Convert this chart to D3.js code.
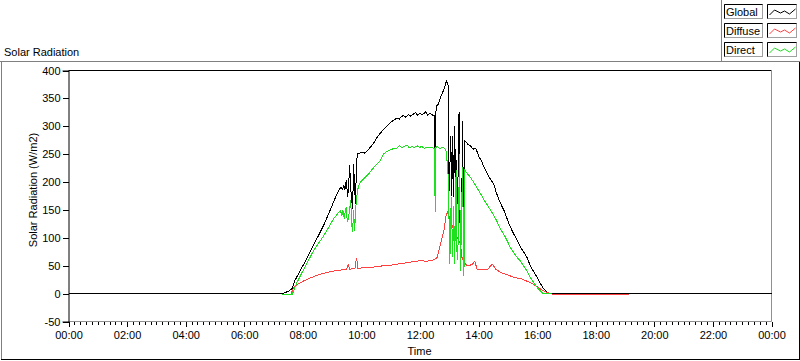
<!DOCTYPE html>
<html>
<head>
<meta charset="utf-8">
<script src="https://cdn.jsdelivr.net/npm/d3@7"></script>
<style>
  body { margin: 0; background: #fff; }
  svg text { font-family: "Liberation Sans", Arial, sans-serif; font-size: 11px; fill: #000; }
</style>
</head>
<body>
<svg id="graph"></svg>
<script>
// readings, [time, W/m2]
var globalRad = [["00:00",0],["07:18",0],["07:30",4],["07:38",9],["07:44",24],["08:02",53],["08:22",87],["08:43",123],["09:01",160],["09:10",179],["09:18",191],["09:21",187],["09:24",194],["09:26",186],["09:29",203],["09:32",173],["09:34",198],["09:36",230],["09:38",188],["09:39",179],["09:42",152],["09:44",233],["09:46",190],["09:48",161],["09:50",239],["09:53",251],["10:01",253],["10:06",252],["10:12",256],["10:18",262],["10:25",270],["10:32",280],["10:39",288],["10:46",295],["10:53",301],["11:00",307],["11:06",311],["11:12",314],["11:18",313],["11:22",318],["11:27",319],["11:31",316],["11:36",321],["11:41",318],["11:47",322],["11:51",325],["11:55",320],["12:00",324],["12:04",321],["12:08",323],["12:12",326],["12:16",320],["12:20",323],["12:24",321],["12:28",319],["12:30",320],["12:31",206],["12:32",320],["12:34",337],["12:38",340],["12:42",352],["12:46",360],["12:49",366],["12:52",374],["12:54",381],["12:56",378],["12:58",372],["12:59",173],["13:01",221],["13:03",283],["13:05",175],["13:07",283],["13:09",173],["13:11",301],["13:13",185],["13:15",240],["13:17",160],["13:20",325],["13:22",120],["13:25",89],["13:27",310],["13:30",86],["13:32",274],["13:38",268],["13:43",265],["13:49",259],["13:54",261],["14:01",245],["14:06",238],["14:11",227],["14:16",218],["14:21",209],["14:26",203],["14:31",197],["14:36",182],["14:41",170],["14:46",160],["14:52",149],["14:57",138],["15:02",125],["15:07",116],["15:12",107],["15:19",96],["15:26",83],["15:33",74],["15:39",65],["15:46",50],["15:53",39],["16:00",29],["16:06",19],["16:12",10],["16:18",4],["16:27",0],["24:00",0]]

var diffuseRad = [["07:36",0],["07:42",12],["07:50",17],["08:00",22],["08:15",28],["08:30",33],["08:45",37],["09:00",40],["09:15",42],["09:30",44],["09:33",52],["09:36",43],["09:40",45],["09:47",46],["09:50",64],["09:53",45],["10:00",46],["10:15",47],["10:30",48],["10:45",50],["11:00",51],["11:15",53],["11:30",55],["11:45",57],["12:00",59],["12:15",58],["12:25",60],["12:30",61],["12:35",65],["12:42",89],["12:49",113],["12:54",143],["12:56",146],["12:59",140],["13:03",130],["13:09",113],["13:16",101],["13:23",89],["13:26",65],["13:30",56],["13:37",50],["13:47",52],["13:52",58],["13:57",44],["14:07",43],["14:18",43],["14:28",53],["14:35",44],["14:45",38],["14:59",34],["15:12",29],["15:26",27],["15:40",22],["15:50",18],["16:07",8],["16:17",3],["16:34",-2],["19:08",-2]]

var directRad = [["07:18",-2],["07:38",-2],["07:48",20],["08:02",44],["08:22",77],["08:43",104],["09:03",134],["09:10",142],["09:17",149],["09:20",140],["09:22",150],["09:25",134],["09:27",148],["09:29",155],["09:31",128],["09:33",134],["09:35",145],["09:38",167],["09:40",125],["09:42",110],["09:44",150],["09:46",113],["09:49",160],["09:52",185],["09:55",195],["09:58",200],["10:05",206],["10:11",211],["10:18",218],["10:25",226],["10:32",232],["10:39",239],["10:46",251],["10:53",255],["11:00",258],["11:06",260],["11:13",261],["11:18",265],["11:23",262],["11:28",264],["11:34",266],["11:38",261],["11:43",264],["11:48",262],["11:54",265],["11:59",262],["12:04",264],["12:09",260],["12:14",263],["12:19",261],["12:24",262],["12:28",260],["12:30",261],["12:31",146],["12:32",262],["12:36",264],["12:40",260],["12:45",262],["12:50",261],["12:53",258],["12:56",233],["12:58",205],["13:01",53],["13:04",173],["13:07",65],["13:09",157],["13:11",53],["13:14",221],["13:16",60],["13:18",89],["13:21",251],["13:23",41],["13:27",227],["13:30",32],["13:32",221],["13:37",215],["13:43",209],["13:54",194],["14:04",179],["14:14",164],["14:25",149],["14:35",134],["14:45",116],["14:55",101],["15:05",83],["15:16",68],["15:26",58],["15:36",45],["15:46",29],["15:55",17],["16:03",8],["16:12",0],["16:28",0]]

var legendNames = ["Global","Diffuse","Direct"]
var seriesColors = ["#000000","#ff4040","#1ee01e"]
var yTicks = [-50,0,50,100,150,200,250,300,350,400]
var xMajor = d3.range(0, 1441, 120)   // minutes, every 2 h
var xMinor = d3.range(0, 1441, 12)

function toMin(t){
    var p = t.split(":")
    return (+p[0])*60 + (+p[1])
}
function fmt(m){
    var h = Math.floor(m/60) % 24
    return (h<10 ? "0"+h : ""+h) + ":00"
}

window.onload = function(){
    const svg = d3.select("#graph").attr("width", 800).attr("height", 361)

    svg.append("rect").attr("width",800).attr("height",361).attr("fill","#fff")

    // outer panel
    svg.append("line").attr("x1",0).attr("x2",721).attr("y1",61.5).attr("y2",61.5).attr("stroke","#808080")
    svg.append("line").attr("x1",1.5).attr("x2",1.5).attr("y1",61.5).attr("y2",359.5).attr("stroke","#808080")
    svg.append("line").attr("x1",1).attr("x2",800).attr("y1",359.5).attr("y2",359.5).attr("stroke","#000")
    svg.append("line").attr("x1",799.5).attr("x2",799.5).attr("y1",61).attr("y2",360).attr("stroke","#000")

    // legend panel
    svg.append("line").attr("x1",721.5).attr("x2",721.5).attr("y1",0).attr("y2",61.5).attr("stroke","#808080")
    svg.append("line").attr("x1",721).attr("x2",800).attr("y1",61.5).attr("y2",61.5).attr("stroke","#808080")

    svg.append("text").attr("x",4).attr("y",56).text("Solar Radiation")

    const x = d3.scaleLinear().domain([0,1440]).range([68.5,771.5])
    const y = d3.scaleLinear().domain([-50,400]).range([321.5,70.5])

    // frame
    svg.append("line").attr("x1",68.5).attr("x2",771.5).attr("y1",70.5).attr("y2",70.5).attr("stroke","#000")
    svg.append("line").attr("x1",771.5).attr("x2",771.5).attr("y1",70.5).attr("y2",321.5).attr("stroke","#909090")

    const gx = svg.append("g").attr("transform","translate(0,321.5)")
        .call(d3.axisBottom(x).tickValues(xMinor).tickSize(3).tickFormat(""))
    const gx2 = svg.append("g").attr("transform","translate(0,321.5)")
        .call(d3.axisBottom(x).tickValues(xMajor).tickSize(5).tickPadding(5).tickFormat(fmt))
    gx.select(".domain").remove()
    gx2.select(".domain").remove()
    svg.append("line").attr("x1",68.5).attr("x2",771.5).attr("y1",321.5).attr("y2",321.5).attr("stroke","#909090")

    const gy = svg.append("g").attr("transform","translate(68.5,0)")
        .call(d3.axisLeft(y).tickValues(yTicks).tickSize(6).tickPadding(2).tickFormat(d=>String(d)))
    gy.select(".domain").attr("stroke","#000")

    svg.selectAll(".tick line").attr("stroke","#000").attr("shape-rendering","crispEdges")
    svg.selectAll(".tick text").attr("font-size",null).attr("font-family",null).attr("fill","#000")

    svg.append("text").attr("transform","translate(37,190) rotate(-90)")
        .attr("text-anchor","middle").text("Solar Radiation (W/m2)")
    svg.append("text").attr("x",419.5).attr("y",355).attr("text-anchor","middle").text("Time")

    const line = d3.line().x(d=>x(toMin(d[0]))).y(d=>y(d[1]))
    const series = [globalRad, diffuseRad, directRad]
    svg.append("g").selectAll("path").data(series).enter().append("path")
        .attr("d", line)
        .attr("fill","none")
        .attr("stroke",(d,i)=>seriesColors[i])
        .attr("stroke-width",1)
        .attr("shape-rendering","crispEdges")

    // legend
    const zig = [[2,11],[7,6],[13,9],[17,7],[22,10],[28,5]]
    const lg = svg.append("g").selectAll("g").data(legendNames).enter().append("g")
        .attr("transform",(d,i)=>"translate(0,"+(4+i*19)+")")
    lg.each(function(d,i){
        const g = d3.select(this)
        // name box
        g.append("rect").attr("x",724.5).attr("y",0.5).attr("width",38).attr("height",14).attr("fill","#fff").attr("stroke","#a0a0a0")
        g.append("path").attr("d","M724.5,14.5V0.5H762.5").attr("fill","none").attr("stroke","#000")
        g.append("text").attr("x",726).attr("y",12).text(d)
        // swatch box
        g.append("rect").attr("x",767.5).attr("y",0.5).attr("width",29).attr("height",14).attr("fill","#fff").attr("stroke","#a0a0a0")
        g.append("path").attr("d","M767.5,14.5V0.5H796.5").attr("fill","none").attr("stroke","#000")
        g.append("path").attr("d", d3.line().x(p=>767.5+p[0]).y(p=>p[1])(zig))
            .attr("fill","none").attr("stroke",seriesColors[i])
    })
}
</script>
</body>
</html>
